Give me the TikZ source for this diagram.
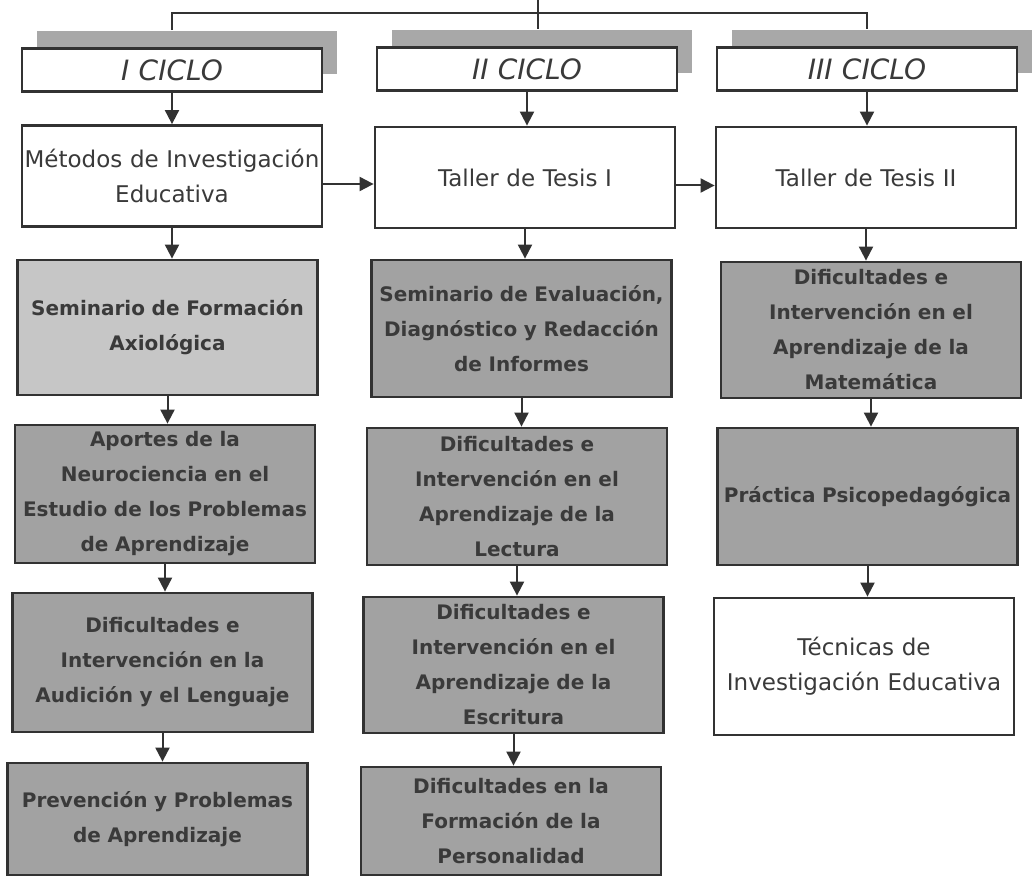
\documentclass[tikz,border=0pt]{standalone}
\usepackage{fontspec}
\setmainfont{DejaVu Sans}
\usetikzlibrary{arrows.meta,shadows}
\definecolor{grisclaro}{RGB}{198,198,198}
\definecolor{grisosc}{RGB}{162,162,162}
\definecolor{sombra}{RGB}{168,168,168}
\definecolor{trazo}{RGB}{50,50,50}
\definecolor{letra}{RGB}{58,58,58}

\begin{document}
\begin{tikzpicture}[x=0.5pt,y=-0.5pt,
    caja/.style={draw=trazo, line width=1.4pt, inner xsep=1pt, inner ysep=1pt, text width=148pt, align=center, text=letra, font=\fontsize{11.5}{17.5}\selectfont},
    ciclo/.style={caja, fill=white, minimum height=21.5pt, font=\fontsize{14}{16}\selectfont\itshape, general shadow={fill=sombra, shadow xshift=7.5pt, shadow yshift=8.5pt}},
    blanco/.style={caja, fill=white},
    gris/.style={caja, fill=grisosc, font=\fontsize{10}{17.5}\selectfont\bfseries},
    grisc/.style={gris, fill=grisclaro},
    flecha/.style={draw=trazo, line width=1pt, -{Triangle[width=7pt,length=7pt]}},
    linea/.style={draw=trazo, line width=0.8pt}]
    \useasboundingbox (0,0) rectangle (1033,877);

    \node[ciclo] (c1h) at (172,70) {I CICLO};
    \node[ciclo] (c2h) at (527,69) {II CICLO};
    \node[ciclo] (c3h) at (867,69) {III CICLO};

    \node[blanco, minimum height=50.5pt] (c1a) at (172,176) {Métodos de Investigación\\Educativa};
    \node[blanco, minimum height=50.5pt] (c2a) at (525,177.5) {Taller de Tesis I};
    \node[blanco, minimum height=50.5pt] (c3a) at (866,177.5) {Taller de Tesis II};

    \node[grisc, minimum height=67.5pt] (c1b) at (167.5,327.5) {Seminario de Formación\\Axiológica};
    \node[gris, minimum height=68.5pt] (c2b) at (521.5,328.5) {Seminario de Evaluación,\\Diagnóstico y Redacción\\de Informes};
    \node[gris, minimum height=68pt] (c3b) at (871,330) {Dificultades e\\Intervención en el\\Aprendizaje de la\\Matemática};

    \node[gris, minimum height=69pt] (c1c) at (165,494) {Aportes de la\\Neurociencia en el\\Estudio de los Problemas\\de Aprendizaje};
    \node[gris, minimum height=68.5pt] (c2c) at (517,496.5) {Dificultades e\\Intervención en el\\Aprendizaje de la\\Lectura};
    \node[gris, minimum height=68.5pt] (c3c) at (867.5,496.5) {Práctica Psicopedagógica};

    \node[gris, minimum height=69.5pt] (c1d) at (162.5,662.5) {Dificultades e\\Intervención en la\\Audición y el Lenguaje};
    \node[gris, minimum height=68pt] (c2d) at (513.5,665) {Dificultades e\\Intervención en el\\Aprendizaje de la\\Escritura};
    \node[blanco, minimum height=68.5pt] (c3d) at (864,666.5) {Técnicas de\\Investigación Educativa};

    \node[gris, minimum height=56pt] (c1e) at (157.5,819) {Prevención y Problemas\\de Aprendizaje};
    \node[gris, minimum height=54pt] (c2e) at (511,821) {Dificultades en la\\Formación de la\\Personalidad};

    \coordinate (raiz) at (538,0);
    \coordinate (s2) at ([yshift=8.5pt]c2h.north);
    \draw[linea] ([yshift=8.5pt]c1h.north) -- ++(0,8.5pt) -| ([yshift=8.5pt]c3h.north);
    \draw[linea] (raiz) -- (raiz |- s2);

    \draw[flecha] (c1h.south) -- (c1h.south |- c1a.north);
    \draw[flecha] (c1a.south) -- (c1a.south |- c1b.north);
    \draw[flecha] (c1b.south) -- (c1b.south |- c1c.north);
    \draw[flecha] (c1c.south) -- (c1c.south |- c1d.north);
    \draw[flecha] (c1d.south) -- (c1d.south |- c1e.north);

    \draw[flecha] (c2h.south) -- (c2h.south |- c2a.north);
    \draw[flecha] (c2a.south) -- (c2a.south |- c2b.north);
    \draw[flecha] (c2b.south) -- (c2b.south |- c2c.north);
    \draw[flecha] (c2c.south) -- (c2c.south |- c2d.north);
    \draw[flecha] (c2d.south) -- (c2d.south |- c2e.north);

    \draw[flecha] (c3h.south) -- (c3h.south |- c3a.north);
    \draw[flecha] (c3a.south) -- (c3a.south |- c3b.north);
    \draw[flecha] (c3b.south) -- (c3b.south |- c3c.north);
    \draw[flecha] (c3c.south) -- (c3c.south |- c3d.north);

    \draw[flecha] ([yshift=-4pt]c1a.east) -- ([yshift=-4pt]c1a.east -| c2a.west);
    \draw[flecha] ([yshift=-4pt]c2a.east) -- ([yshift=-4pt]c2a.east -| c3a.west);
\end{tikzpicture}
\end{document}
